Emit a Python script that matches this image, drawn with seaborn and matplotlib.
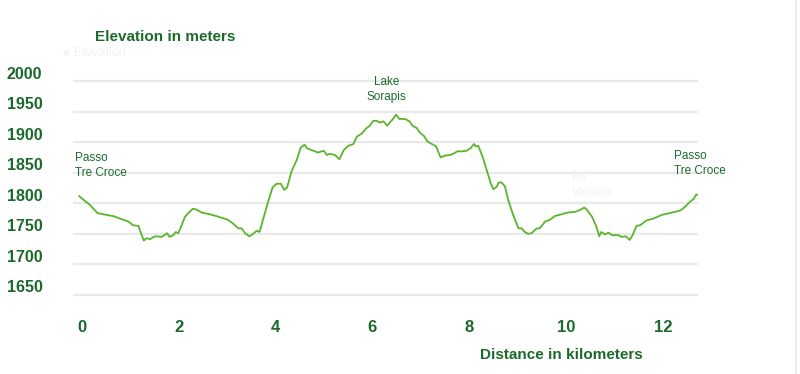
import matplotlib
matplotlib.use("Agg")
import matplotlib.pyplot as plt
import matplotlib.transforms as mtransforms
import seaborn as sns

# profile: distance (km), elevation (m)
distance = [0.00, 0.12, 0.23, 0.38, 0.50, 0.71, 0.88, 1.02, 1.12, 1.23, 1.27, 1.34, 1.40, 1.47,
            1.52, 1.59, 1.71, 1.82, 1.87, 1.95, 2.00, 2.05, 2.12, 2.19, 2.26, 2.35, 2.42, 2.53,
            2.70, 2.84, 2.95, 3.05, 3.15, 3.29, 3.36, 3.43, 3.52, 3.60, 3.67, 3.73, 3.81, 3.91,
            4.00, 4.08, 4.17, 4.24, 4.30, 4.39, 4.50, 4.58, 4.66, 4.71, 4.84, 4.94, 5.01, 5.06,
            5.12, 5.19, 5.29, 5.38, 5.47, 5.56, 5.67, 5.74, 5.84, 5.94, 6.01, 6.08, 6.15, 6.22,
            6.29, 6.37, 6.44, 6.49, 6.55, 6.62, 6.74, 6.83, 6.89, 6.98, 7.05, 7.13, 7.20, 7.29,
            7.38, 7.47, 7.56, 7.67, 7.73, 7.82, 7.91, 8.01, 8.09, 8.16, 8.20, 8.25, 8.34, 8.42,
            8.51, 8.56, 8.63, 8.67, 8.73, 8.80, 8.87, 8.97, 9.08, 9.15, 9.21, 9.28, 9.35, 9.46,
            9.52, 9.63, 9.73, 9.83, 9.97, 10.11, 10.25, 10.35, 10.44, 10.49, 10.60, 10.69, 10.75,
            10.79, 10.87, 10.94, 11.01, 11.14, 11.21, 11.30, 11.38, 11.44, 11.52, 11.59, 11.73,
            11.87, 12.04, 12.21, 12.42, 12.52, 12.63, 12.70, 12.75, 12.80]
elevation = [1812, 1804, 1797, 1784, 1782, 1779, 1774, 1770, 1764, 1763, 1753, 1739, 1743, 1741,
             1744, 1746, 1745, 1751, 1745, 1748, 1753, 1751, 1764, 1778, 1784, 1791, 1790, 1785,
             1782, 1779, 1776, 1774, 1769, 1759, 1759, 1751, 1746, 1750, 1755, 1753, 1775, 1803,
             1826, 1832, 1832, 1822, 1826, 1852, 1871, 1891, 1896, 1890, 1886, 1883, 1885, 1886,
             1879, 1881, 1879, 1872, 1887, 1894, 1897, 1909, 1914, 1923, 1927, 1935, 1935, 1932,
             1934, 1927, 1934, 1938, 1945, 1938, 1938, 1934, 1927, 1923, 1915, 1910, 1901, 1897,
             1893, 1875, 1878, 1879, 1881, 1885, 1885, 1886, 1890, 1897, 1893, 1894, 1876, 1855,
             1832, 1823, 1827, 1834, 1834, 1828, 1805, 1781, 1759, 1759, 1753, 1750, 1751, 1759,
             1759, 1770, 1773, 1779, 1782, 1785, 1786, 1789, 1793, 1790, 1778, 1762, 1746,
             1753, 1749, 1752, 1748, 1748, 1745, 1746, 1740, 1748, 1763, 1764, 1772,
             1775, 1781, 1784, 1788, 1794, 1803, 1807, 1814, 1814]

y_ticks = [1650, 1700, 1750, 1800, 1850, 1900, 1950, 2000]
x_ticks = [0, 2, 4, 6, 8, 10, 12]

places = ["Passo\nTre Croce", "Lake\nSorapis", "Rif.\nVandelli", "Passo\nTre Croce"]
place_km = [-0.08, 6.35, 10.18, 12.3]
place_elev = [1862, 1986, 1830, 1865]

sns.set_style("white")
plt.rcParams['font.family'] = ['Liberation Sans', 'DejaVu Sans']

dark_green = "#1b6a2c"
line_green = "#5bb52c"

fig = plt.figure(figsize=(8, 3.74), dpi=100)
ax = fig.add_axes([0.09125, 0.2032, 0.78125, 0.5882])

sns.lineplot(x=distance, y=elevation, color=line_green, linewidth=1.3, ax=ax)

ax.set_xlim(-0.124, 12.79)
ax.set_ylim(1645, 2005)
ax.set_yticks(y_ticks)
ax.set_xticks(x_ticks)
ax.yaxis.grid(True, color="#e9e9e9", linewidth=1.6)
ax.xaxis.grid(False)
for s in ax.spines.values():
    s.set_visible(False)
ax.tick_params(axis="y", length=0, pad=22)
ax.tick_params(axis="x", length=0, pad=16)

ax.set_yticklabels([str(v) for v in y_ticks], fontsize=11.5,
                   fontweight="bold", color=dark_green)
ax.set_xticklabels([str(v) for v in x_ticks], fontsize=12,
                   fontweight="bold", color=dark_green)
# labels sit a little above their gridlines, x labels a little right
up = mtransforms.ScaledTranslation(0, 8.5 / 100, fig.dpi_scale_trans)
for lab in ax.get_yticklabels():
    lab.set_transform(lab.get_transform() + up)
right = mtransforms.ScaledTranslation(3 / 100, 0, fig.dpi_scale_trans)
for lab in ax.get_xticklabels():
    lab.set_transform(lab.get_transform() + right)

ax.set_xlabel("")
ax.set_ylabel("")

# place labels
ax.text(place_km[0], place_elev[0], places[0], color=dark_green, fontsize=8.5,
        ha="left", va="center", linespacing=1.35)
ax.text(place_km[1], place_elev[1], places[1], color=dark_green, fontsize=8.5,
        ha="center", va="center", linespacing=1.35)
ax.text(place_km[2], place_elev[2], places[2], color="#f2f2f2", fontsize=8.5,
        ha="left", va="center", linespacing=1.35)
ax.text(place_km[3], place_elev[3], places[3], color=dark_green, fontsize=8.5,
        ha="left", va="center", linespacing=1.35, clip_on=False)

fig.text(95 / 800, 1 - 37 / 374, "Elevation in meters", color=dark_green, fontsize=11,
         fontweight="bold", ha="left", va="center")
fig.text(561 / 800, 1 - 355 / 374, "Distance in kilometers", color=dark_green,
         fontsize=11, fontweight="bold", ha="center", va="center")

# faint leftovers of the underlying chart
fig.text(66 / 800, 1 - 53 / 374, "\u25cf", color="#f2f6f2", fontsize=11, ha="center", va="center")
fig.text(74 / 800, 1 - 53 / 374, "Elevation", color="#f2f2f2", fontsize=9, ha="left", va="center")
fig.add_artist(plt.Line2D([796 / 800, 796 / 800], [0, 1], color="#ebebeb", linewidth=1.5))

fig.savefig("out.png", dpi=100, facecolor="white")
